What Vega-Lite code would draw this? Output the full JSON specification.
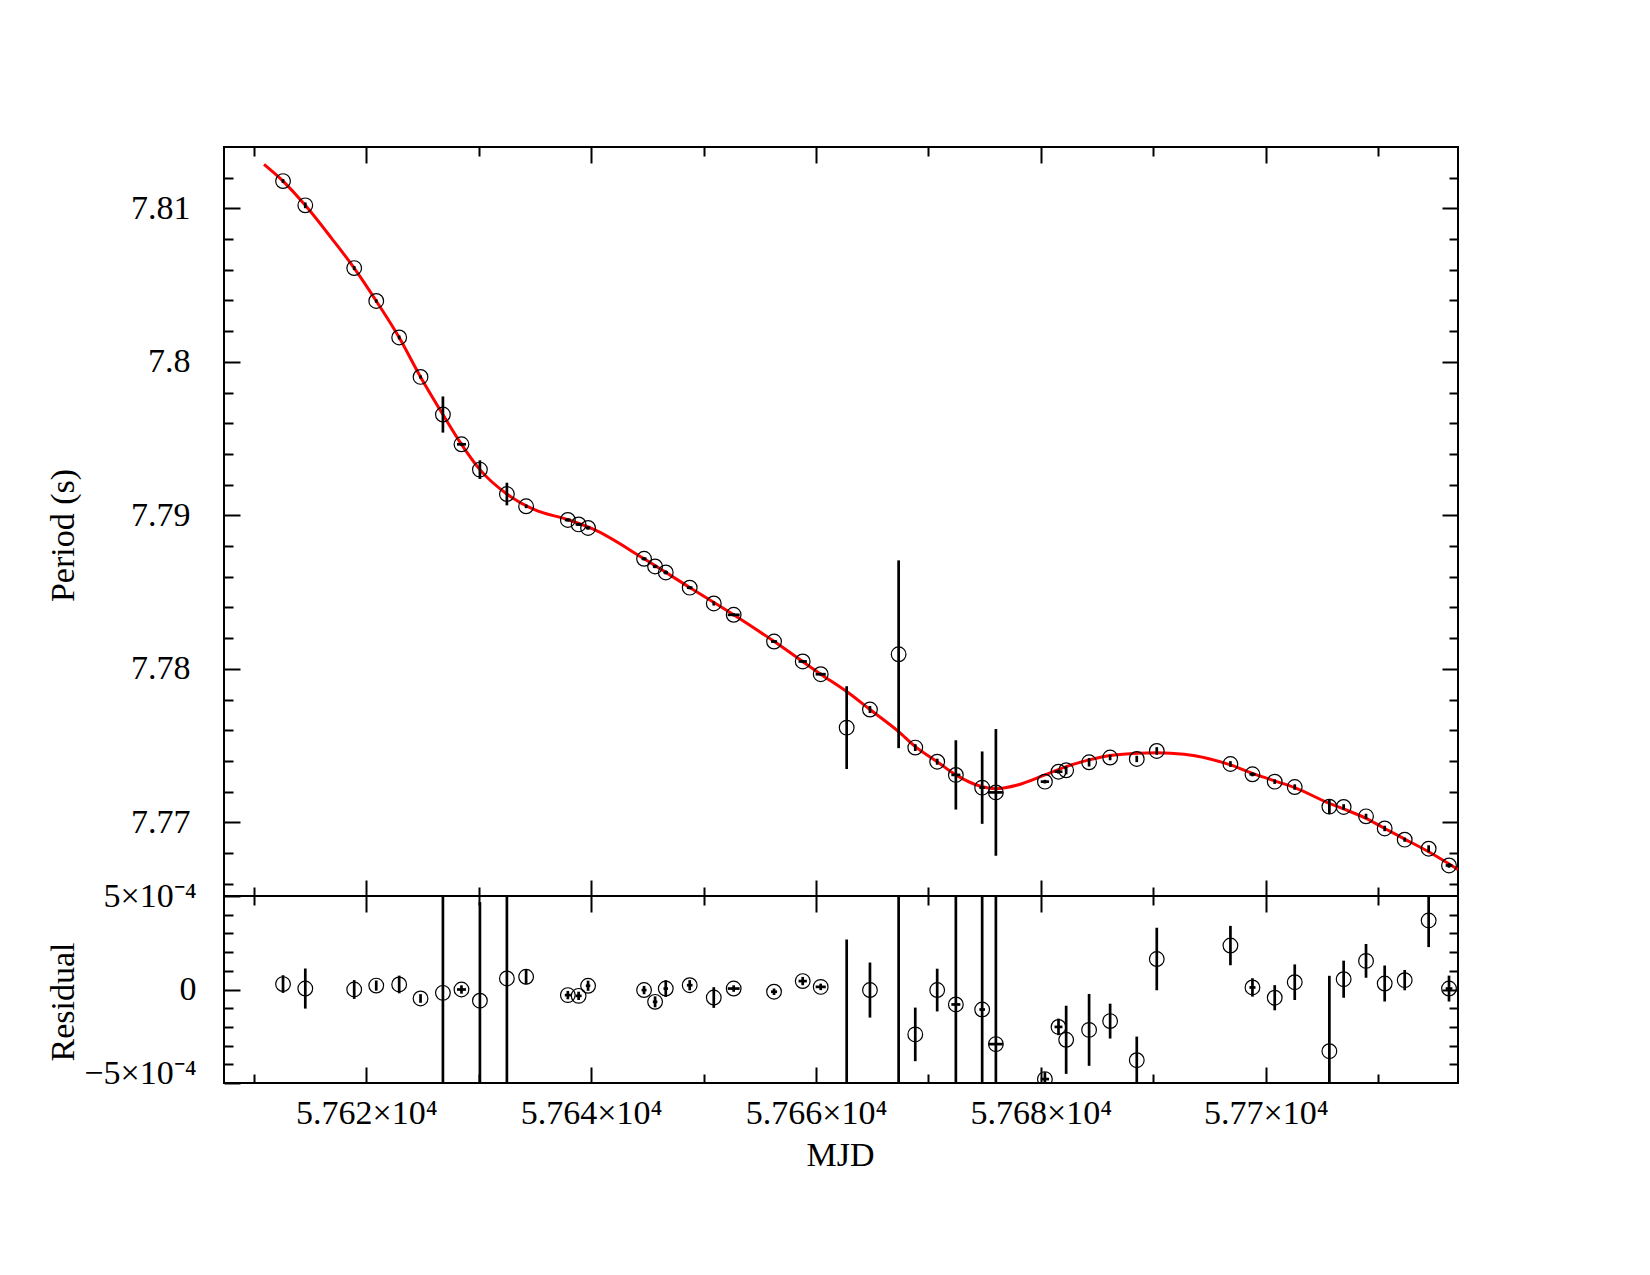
{
  "$schema": "https://vega.github.io/schema/vega-lite/v6.json",
  "background": "white",
  "padding": {"left": 45, "top": 145, "right": 10, "bottom": 10},
  "spacing": 0,
  "bounds": "flush",
  "config": {
    "view": {"stroke": "black", "strokeWidth": 2},
    "axis": {
      "grid": false,
      "domain": false,
      "tickColor": "black",
      "tickWidth": 2,
      "labelFont": "Liberation Serif",
      "labelFontSize": 34,
      "labelColor": "black",
      "labelFlush": false,
      "labelOverlap": false,
      "titleFont": "Liberation Serif",
      "titleFontSize": 34,
      "titleFontWeight": "normal",
      "titleColor": "black"
    }
  },
  "datasets": {
    "pts": [
      {"mjd": 57612.60, "p": 7.81178, "err": 0.00004, "res": 0.000029},
      {"mjd": 57614.58, "p": 7.81020, "err": 0.0001, "res": 0.000005},
      {"mjd": 57618.93, "p": 7.80611, "err": 0.000043, "res": 0.0},
      {"mjd": 57620.89, "p": 7.80397, "err": 0.00002, "res": 0.000021},
      {"mjd": 57622.93, "p": 7.80159, "err": 0.00004, "res": 0.000027},
      {"mjd": 57624.83, "p": 7.79902, "err": 0.000016, "res": -0.000048},
      {"mjd": 57626.82, "p": 7.79657, "err": 0.00109, "res": -0.000018},
      {"mjd": 57628.47, "p": 7.79463, "err": 0.000015, "res": 0.0, "xerr": 0.4},
      {"mjd": 57630.11, "p": 7.79298, "err": 0.00052, "res": -0.00006},
      {"mjd": 57632.51, "p": 7.79139, "err": 0.00065, "res": 0.000059},
      {"mjd": 57634.22, "p": 7.79059, "err": 0.000033, "res": 0.000068},
      {"mjd": 57637.93, "p": 7.78970, "err": 0.000015, "res": -0.00003, "xerr": 0.27},
      {"mjd": 57638.89, "p": 7.78941, "err": 0.000015, "res": -0.000034, "xerr": 0.27},
      {"mjd": 57639.73, "p": 7.78918, "err": 0.00002, "res": 0.00002, "xerr": 0.2},
      {"mjd": 57644.71, "p": 7.78717, "err": 0.000015, "res": -0.000003, "xerr": 0.22},
      {"mjd": 57645.69, "p": 7.78667, "err": 0.000022, "res": -0.000066, "xerr": 0.2},
      {"mjd": 57646.64, "p": 7.78628, "err": 0.000038, "res": 0.000005, "xerr": 0.2},
      {"mjd": 57648.77, "p": 7.78529, "err": 0.00002, "res": 0.000023, "xerr": 0.25},
      {"mjd": 57650.91, "p": 7.78426, "err": 0.000048, "res": -0.000043},
      {"mjd": 57652.68, "p": 7.78352, "err": 0.00001, "res": 0.000005, "xerr": 0.53},
      {"mjd": 57656.27, "p": 7.78178, "err": 0.00001, "res": -0.000012, "xerr": 0.27},
      {"mjd": 57658.82, "p": 7.78048, "err": 0.000015, "res": 0.000045, "xerr": 0.37},
      {"mjd": 57660.42, "p": 7.77965, "err": 0.00001, "res": 0.000014, "xerr": 0.45},
      {"mjd": 57662.73, "p": 7.77617, "err": 0.00261, "res": -0.00235},
      {"mjd": 57664.80, "p": 7.77735, "err": 0.00014, "res": -0.000003},
      {"mjd": 57667.35, "p": 7.78095, "err": 0.00603, "res": 0.00504},
      {"mjd": 57668.83, "p": 7.77487, "err": 0.000136, "res": -0.00024},
      {"mjd": 57670.78, "p": 7.77395, "err": 0.000107, "res": -0.000003},
      {"mjd": 57672.44, "p": 7.77309, "err": 0.00217, "res": -0.00008, "xerr": 0.4},
      {"mjd": 57674.78, "p": 7.77226, "err": 0.00227, "res": -0.000107, "xerr": 0.25},
      {"mjd": 57676.00, "p": 7.77195, "err": 0.00404, "res": -0.000292, "xerr": 0.62},
      {"mjd": 57680.36, "p": 7.77265, "err": 0.00003, "res": -0.000479, "xerr": 0.37},
      {"mjd": 57681.57, "p": 7.77330, "err": 0.000037, "res": -0.0002, "xerr": 0.35},
      {"mjd": 57682.25, "p": 7.77339, "err": 0.000175, "res": -0.000269},
      {"mjd": 57684.29, "p": 7.77391, "err": 0.000185, "res": -0.000216},
      {"mjd": 57686.16, "p": 7.77422, "err": 0.000086, "res": -0.000169},
      {"mjd": 57688.53, "p": 7.77413, "err": 0.000119, "res": -0.000378},
      {"mjd": 57690.31, "p": 7.77465, "err": 0.00016, "res": 0.000163},
      {"mjd": 57696.86, "p": 7.77380, "err": 0.000098, "res": 0.000235},
      {"mjd": 57698.82, "p": 7.77313, "err": 0.000042, "res": 0.000011, "xerr": 0.27},
      {"mjd": 57700.80, "p": 7.77265, "err": 0.00006, "res": -0.000044},
      {"mjd": 57702.58, "p": 7.77230, "err": 0.000088, "res": 0.000039},
      {"mjd": 57705.66, "p": 7.77102, "err": 0.000396, "res": -0.00033},
      {"mjd": 57706.93, "p": 7.77100, "err": 0.000092, "res": 0.000055},
      {"mjd": 57708.92, "p": 7.77039, "err": 0.000083, "res": 0.000153},
      {"mjd": 57710.58, "p": 7.76960, "err": 0.000089, "res": 0.000032},
      {"mjd": 57712.36, "p": 7.76887, "err": 0.000047, "res": 0.00005},
      {"mjd": 57714.49, "p": 7.76828, "err": 0.000135, "res": 0.000369},
      {"mjd": 57716.30, "p": 7.76719, "err": 0.000062, "res": 0.000005, "xerr": 0.3}
    ],
    "model": [
      {"mjd": 57610.91, "p": 7.81287},
      {"mjd": 57612.60, "p": 7.81178},
      {"mjd": 57614.58, "p": 7.81020},
      {"mjd": 57616.89, "p": 7.80808},
      {"mjd": 57618.93, "p": 7.80611},
      {"mjd": 57620.89, "p": 7.80397},
      {"mjd": 57622.93, "p": 7.80159},
      {"mjd": 57624.83, "p": 7.79902},
      {"mjd": 57626.82, "p": 7.79657},
      {"mjd": 57628.47, "p": 7.79463},
      {"mjd": 57630.11, "p": 7.79298},
      {"mjd": 57632.51, "p": 7.79139},
      {"mjd": 57634.96, "p": 7.79037},
      {"mjd": 57637.93, "p": 7.78972},
      {"mjd": 57640.29, "p": 7.78907},
      {"mjd": 57644.71, "p": 7.78717},
      {"mjd": 57648.77, "p": 7.78530},
      {"mjd": 57652.68, "p": 7.78352},
      {"mjd": 57656.29, "p": 7.78178},
      {"mjd": 57660.42, "p": 7.77965},
      {"mjd": 57662.73, "p": 7.77852},
      {"mjd": 57664.80, "p": 7.77735},
      {"mjd": 57667.35, "p": 7.77591},
      {"mjd": 57668.83, "p": 7.77493},
      {"mjd": 57670.78, "p": 7.77395},
      {"mjd": 57672.44, "p": 7.77309},
      {"mjd": 57674.78, "p": 7.77232},
      {"mjd": 57676.00, "p": 7.77219},
      {"mjd": 57677.93, "p": 7.77243},
      {"mjd": 57680.36, "p": 7.77309},
      {"mjd": 57682.25, "p": 7.77363},
      {"mjd": 57684.29, "p": 7.77407},
      {"mjd": 57686.16, "p": 7.77436},
      {"mjd": 57688.53, "p": 7.77450},
      {"mjd": 57690.31, "p": 7.77454},
      {"mjd": 57692.74, "p": 7.77444},
      {"mjd": 57696.86, "p": 7.77374},
      {"mjd": 57698.82, "p": 7.77319},
      {"mjd": 57700.80, "p": 7.77270},
      {"mjd": 57702.58, "p": 7.77226},
      {"mjd": 57705.66, "p": 7.77123},
      {"mjd": 57706.93, "p": 7.77087},
      {"mjd": 57708.92, "p": 7.77026},
      {"mjd": 57710.58, "p": 7.76960},
      {"mjd": 57712.36, "p": 7.76891},
      {"mjd": 57714.49, "p": 7.76808},
      {"mjd": 57717.09, "p": 7.76693}
    ]
  },
  "vconcat": [
    {
      "width": 1234,
      "height": 749,
      "resolve": {"axis": {"x": "independent", "y": "independent"}},
      "layer": [
        {
          "data": {"name": "model"},
          "mark": {"type": "line", "color": "#ff0000", "strokeWidth": 3, "interpolate": "monotone", "clip": true},
          "encoding": {
            "x": {"field": "mjd", "type": "quantitative", "scale": {"domain": [57607.35, 57717.1], "nice": false, "zero": false},
              "axis": {"orient": "bottom", "values": [57620, 57640, 57660, 57680, 57700], "tickSize": -16, "labels": false, "title": null}},
            "y": {"field": "p", "type": "quantitative", "scale": {"domain": [7.7652, 7.814], "nice": false, "zero": false},
              "axis": {"orient": "left", "values": [7.77, 7.78, 7.79, 7.8, 7.81], "tickSize": -16, "labelPadding": 50, "format": "~g",
                "title": "Period (s)", "titleX": -161, "titleY": 388, "titleBaseline": "middle", "titleAlign": "center"}}
          }
        },
        {
          "data": {"name": "pts"},
          "mark": {"type": "errorbar", "color": "black", "thickness": 2.7, "clip": true, "rule": {"strokeCap": "square", "color": "black"}},
          "encoding": {
            "x": {"field": "mjd", "type": "quantitative", "scale": {"domain": [57607.35, 57717.1], "nice": false, "zero": false},
              "axis": {"orient": "bottom", "values": [57610, 57630, 57650, 57670, 57690, 57710], "tickSize": -9, "labels": false, "title": null}},
            "y": {"field": "p", "type": "quantitative", "scale": {"domain": [7.7652, 7.814], "nice": false, "zero": false},
              "axis": {"orient": "left", "values": [7.766, 7.768, 7.772, 7.774, 7.776, 7.778, 7.782, 7.784, 7.786, 7.788, 7.792, 7.794, 7.796, 7.798, 7.802, 7.804, 7.806, 7.808, 7.812], "tickSize": -9, "labels": false, "title": null}},
            "yError": {"field": "err"}
          }
        },
        {
          "data": {"name": "pts"},
          "transform": [{"filter": "isValid(datum.xerr)"}],
          "mark": {"type": "errorbar", "color": "black", "thickness": 2.7, "clip": true, "rule": {"strokeCap": "butt", "color": "black"}},
          "encoding": {
            "x": {"field": "mjd", "type": "quantitative", "scale": {"domain": [57607.35, 57717.1], "nice": false, "zero": false},
              "axis": {"orient": "top", "values": [57620, 57640, 57660, 57680, 57700], "tickSize": -16, "labels": false, "title": null}},
            "xError": {"field": "xerr"},
            "y": {"field": "p", "type": "quantitative", "scale": {"domain": [7.7652, 7.814], "nice": false, "zero": false},
              "axis": {"orient": "right", "values": [7.77, 7.78, 7.79, 7.8, 7.81], "tickSize": -16, "labels": false, "title": null}}
          }
        },
        {
          "data": {"name": "pts"},
          "mark": {"type": "point", "shape": "circle", "size": 216, "filled": false, "stroke": "black", "strokeWidth": 1.2, "opacity": 1, "clip": true},
          "encoding": {
            "x": {"field": "mjd", "type": "quantitative", "scale": {"domain": [57607.35, 57717.1], "nice": false, "zero": false},
              "axis": {"orient": "top", "values": [57610, 57630, 57650, 57670, 57690, 57710], "tickSize": -9, "labels": false, "title": null}},
            "y": {"field": "p", "type": "quantitative", "scale": {"domain": [7.7652, 7.814], "nice": false, "zero": false},
              "axis": {"orient": "right", "values": [7.766, 7.768, 7.772, 7.774, 7.776, 7.778, 7.782, 7.784, 7.786, 7.788, 7.792, 7.794, 7.796, 7.798, 7.802, 7.804, 7.806, 7.808, 7.812], "tickSize": -9, "labels": false, "title": null}}
          }
        }
      ]
    },
    {
      "width": 1234,
      "height": 187,
      "resolve": {"axis": {"x": "independent", "y": "independent"}},
      "layer": [
        {
          "data": {"name": "pts"},
          "mark": {"type": "errorbar", "color": "black", "thickness": 2.7, "clip": true, "rule": {"strokeCap": "square", "color": "black"}},
          "encoding": {
            "x": {"field": "mjd", "type": "quantitative", "scale": {"domain": [57607.35, 57717.1], "nice": false, "zero": false},
              "axis": {"orient": "bottom", "values": [57620, 57640, 57660, 57680, 57700], "tickSize": -16, "labelPadding": 29.5,
                "labelExpr": "format(datum.value / 10000, '.4~f') + '×10⁴'",
                "title": "MJD", "titleX": 616, "titleY": 82.5, "titleBaseline": "alphabetic", "titleAlign": "center"}},
            "y": {"field": "res", "type": "quantitative", "scale": {"domain": [-0.0005, 0.0005], "nice": false, "zero": false},
              "axis": {"orient": "left", "values": [-0.0005, 0, 0.0005], "tickSize": -16, "labelPadding": 44,
                "labelExpr": "datum.value > 0 ? '5×10⁻⁴' : (datum.value < 0 ? '−5×10⁻⁴' : '0')",
                "labelOffset": {"condition": {"test": "datum.value < 0", "value": -10}, "value": 0},
                "title": "Residual", "titleX": -161, "titleY": 105.5, "titleBaseline": "middle", "titleAlign": "center"}},
            "yError": {"field": "err"}
          }
        },
        {
          "data": {"name": "pts"},
          "transform": [{"filter": "isValid(datum.xerr)"}],
          "mark": {"type": "errorbar", "color": "black", "thickness": 2.7, "clip": true, "rule": {"strokeCap": "butt", "color": "black"}},
          "encoding": {
            "x": {"field": "mjd", "type": "quantitative", "scale": {"domain": [57607.35, 57717.1], "nice": false, "zero": false},
              "axis": {"orient": "bottom", "values": [57610, 57630, 57650, 57670, 57690, 57710], "tickSize": -9, "labels": false, "title": null}},
            "xError": {"field": "xerr"},
            "y": {"field": "res", "type": "quantitative", "scale": {"domain": [-0.0005, 0.0005], "nice": false, "zero": false},
              "axis": {"orient": "left", "values": [-0.0004, -0.0003, -0.0002, -0.0001, 0.0001, 0.0002, 0.0003, 0.0004], "tickSize": -9, "labels": false, "title": null}}
          }
        },
        {
          "data": {"name": "pts"},
          "mark": {"type": "point", "shape": "circle", "size": 216, "filled": false, "stroke": "black", "strokeWidth": 1.2, "opacity": 1, "clip": true},
          "encoding": {
            "x": {"field": "mjd", "type": "quantitative", "scale": {"domain": [57607.35, 57717.1], "nice": false, "zero": false},
              "axis": {"orient": "top", "values": [57620, 57640, 57660, 57680, 57700], "tickSize": -16, "labels": false, "title": null}},
            "y": {"field": "res", "type": "quantitative", "scale": {"domain": [-0.0005, 0.0005], "nice": false, "zero": false},
              "axis": {"orient": "right", "values": [0], "tickSize": -16, "labels": false, "title": null}}
          }
        },
        {
          "data": {"name": "pts"},
          "mark": {"type": "point", "opacity": 0, "clip": true},
          "encoding": {
            "x": {"field": "mjd", "type": "quantitative", "scale": {"domain": [57607.35, 57717.1], "nice": false, "zero": false},
              "axis": {"orient": "top", "values": [57610, 57630, 57650, 57670, 57690, 57710], "tickSize": -9, "labels": false, "title": null}},
            "y": {"field": "res", "type": "quantitative", "scale": {"domain": [-0.0005, 0.0005], "nice": false, "zero": false},
              "axis": {"orient": "right", "values": [-0.0004, -0.0003, -0.0002, -0.0001, 0.0001, 0.0002, 0.0003, 0.0004], "tickSize": -9, "labels": false, "title": null}}
          }
        }
      ]
    }
  ]
}
